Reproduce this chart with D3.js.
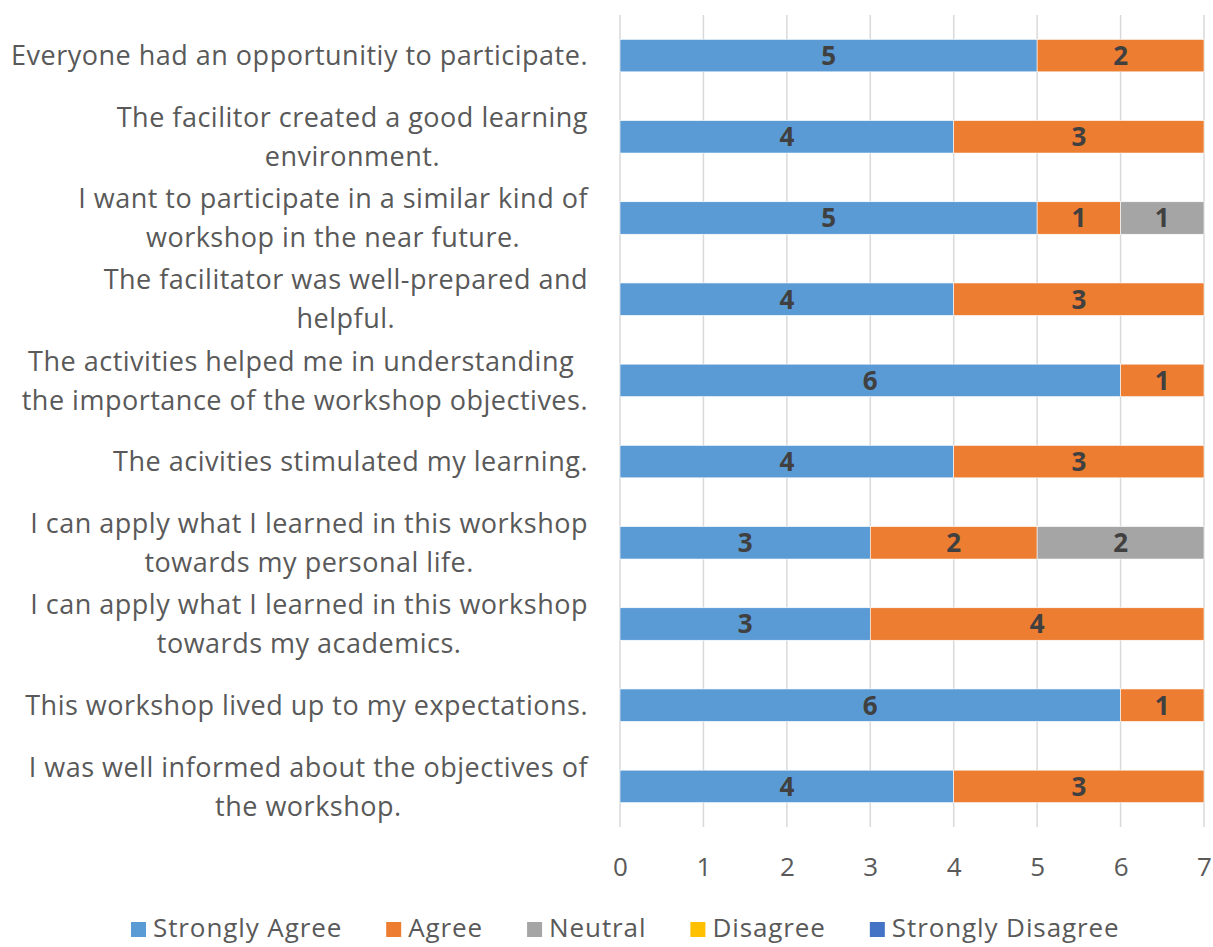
<!DOCTYPE html>
<html><head><meta charset="utf-8">
<script src="https://cdn.jsdelivr.net/npm/d3@7"></script>
<style>body{margin:0;background:#fff;} text{font-family:"Open Sans",sans-serif;}</style>
</head><body>
<svg id="chart" width="1213" height="947"></svg>
<script>
const categories = [
  ["Everyone had an opportunitiy to participate."],
  ["The facilitor created a good learning", "environment."],
  ["I want to participate in a similar kind of", "workshop in the near future."],
  ["The facilitator was well-prepared and", "helpful."],
  ["The activities helped me in understanding ", "the importance of the workshop objectives."],
  ["The acivities stimulated my learning."],
  ["I can apply what I learned in this workshop", "towards my personal life."],
  ["I can apply what I learned in this workshop", "towards my academics."],
  ["This workshop lived up to my expectations."],
  ["I was well informed about the objectives of", "the workshop."]
];
const seriesNames = ["Strongly Agree", "Agree", "Neutral", "Disagree", "Strongly Disagree"];
const stronglyAgree = [5, 4, 5, 4, 6, 4, 3, 3, 6, 4];
const agree         = [2, 3, 1, 3, 1, 3, 2, 4, 1, 3];
const neutral       = [0, 0, 1, 0, 0, 0, 2, 0, 0, 0];
const disagree      = [0, 0, 0, 0, 0, 0, 0, 0, 0, 0];
const stronglyDisagree = [0, 0, 0, 0, 0, 0, 0, 0, 0, 0];
const xTicks = [0, 1, 2, 3, 4, 5, 6, 7];
const colors = ["#5B9BD5", "#ED7D31", "#A5A5A5", "#FFC000", "#4472C4"];

const seriesValues = [stronglyAgree, agree, neutral, disagree, stronglyDisagree];
const rows = categories.map((c, i) => {
  const o = {idx: i};
  seriesNames.forEach((s, j) => o[s] = seriesValues[j][i]);
  return o;
});

const svg = d3.select("#chart");
const plot = {left: 620, right: 1204, top: 15, bottom: 827};

const x = d3.scaleLinear().domain([0, 7]).range([plot.left, plot.right]);
const y = d3.scaleBand().domain(d3.range(categories.length)).range([plot.top, plot.bottom]).paddingInner(0.6).paddingOuter(0.3);

// gridlines
svg.append("g").selectAll("line").data(xTicks).join("line")
  .attr("x1", d => x(d)).attr("x2", d => x(d))
  .attr("y1", plot.top).attr("y2", plot.bottom)
  .attr("stroke", "#D9D9D9").attr("stroke-width", 1.5);

// x axis tick labels
const xAxis = d3.axisBottom(x).tickValues(xTicks).tickSize(0).tickPadding(0).tickFormat(d3.format("d"));
const gx = svg.append("g").attr("transform", `translate(0,${plot.bottom + 31})`).call(xAxis);
gx.select(".domain").remove();
gx.selectAll("text").attr("font-size", 26).attr("fill", "#595959").attr("font-family", "Open Sans").attr("dy", "0.71em");

// stacks
const stack = d3.stack().keys(seriesNames);
const stacked = stack(rows);
const layers = svg.append("g").selectAll("g").data(stacked).join("g")
  .attr("fill", (d, i) => colors[i]);
layers.selectAll("rect").data(d => d.filter(p => p[1] - p[0] > 0)).join("rect")
  .attr("x", d => x(d[0])).attr("width", d => x(d[1]) - x(d[0]))
  .attr("y", d => y(d.data.idx)).attr("height", y.bandwidth())
  .attr("stroke", "#fff").attr("stroke-width", 0.6);

// data labels
layers.selectAll("text").data(d => d.filter(p => p[1] - p[0] > 0)).join("text")
  .attr("x", d => (x(d[0]) + x(d[1])) / 2)
  .attr("y", d => y(d.data.idx) + y.bandwidth() / 2)
  .attr("text-anchor", "middle").attr("dy", "0.36em")
  .attr("font-size", 26).attr("font-weight", "bold").attr("fill", "#404040")
  .text(d => d[1] - d[0]);

// category labels
const labelRight = 588;
const lineH = 39;
const lg = svg.append("g");
categories.forEach((lines, i) => {
  const t = lg.append("text").attr("font-size", 27).attr("letter-spacing", 0.5).attr("fill", "#595959")
    .attr("text-anchor", "middle").style("white-space", "pre");
  const cy = y(i) + y.bandwidth() / 2;
  const spans = lines.map((l, k) => t.append("tspan").text(l)
    .attr("y", cy + (k - (lines.length - 1) / 2) * lineH).attr("dy", "0.36em"));
  const maxW = d3.max(spans.map(s => s.node().getComputedTextLength()));
  const cx = labelRight - maxW / 2;
  spans.forEach(s => s.attr("x", cx));
});

// legend
const legend = svg.append("g").attr("transform", "translate(0,928)");
let lx = 131;
seriesNames.forEach((s, i) => {
  legend.append("rect").attr("x", lx).attr("y", -6).attr("width", 15).attr("height", 15).attr("fill", colors[i]);
  const t = legend.append("text").attr("x", lx + 22).attr("y", 0).attr("dy", "0.36em")
    .attr("font-size", 26).attr("letter-spacing", 0.9).attr("fill", "#595959").text(s);
  lx += 22 + t.node().getComputedTextLength() + 44;
});
</script>
</body></html>
